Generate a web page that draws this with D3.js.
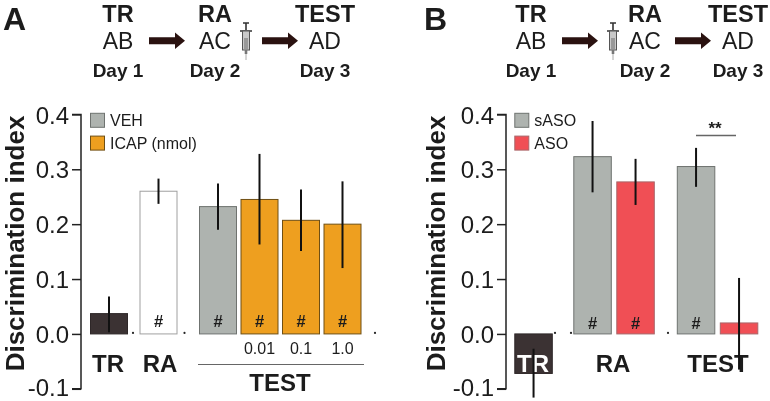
<!DOCTYPE html>
<html><head><meta charset="utf-8">
<script src="https://cdn.jsdelivr.net/npm/d3@7/dist/d3.min.js"></script>
<style>html,body{margin:0;padding:0;background:#fff}svg{display:block;filter:blur(0.35px)}text{font-family:"Liberation Sans",Arial,sans-serif;fill:#1c1c1c}</style>
</head><body><svg id="c" width="770" height="401"></svg>
<script>
const yTicks = [-0.1, 0, 0.1, 0.2, 0.3, 0.4];
const catsA = ["TR", "RA", "VEH", "0.01", "0.1", "1.0"];
const groupsA = ["TR", "RA", "TEST", "TEST", "TEST", "TEST"];
const valuesA = [0.037, 0.26, 0.232, 0.245, 0.207, 0.2];
const lowA = [0.003, 0.237, 0.19, 0.163, 0.151, 0.12];
const highA = [0.068, 0.283, 0.274, 0.328, 0.263, 0.278];
const fillsA = ["dark", "white", "grey", "orange", "orange", "orange"];
const hashA = [false, true, true, true, true, true];
const doseLabels = ["0.01", "0.1", "1.0"];

const catsB = ["TR", "RA sASO", "RA ASO", "TEST sASO", "TEST ASO"];
const groupsB = ["TR", "RA", "RA", "TEST", "TEST"];
const valuesB = [-0.072, 0.323, 0.277, 0.305, 0.02];
const lowB = [-0.116, 0.258, 0.235, 0.268, -0.065];
const highB = [-0.027, 0.388, 0.319, 0.339, 0.102];
const fillsB = ["dark", "grey", "red", "grey", "red"];
const hashB = [false, true, true, true, false];

const palette = {dark:["#3b3233","#2e2728"], white:["#ffffff","#a0a0a0"], grey:["#aeb3af","#6f7370"], orange:["#ee9f1f","#6f4f14"], red:["#f04f55","#a8666a"]};
const svg = d3.select("#c");
const y = d3.scaleLinear().domain([-0.1, 0.4]).range([388.8, 114.4]);

function panel(o){
  const g = svg.append("g");
  const x = d3.scaleBand().domain(o.cats).range(o.xr).paddingInner(o.pad).paddingOuter(0);
  const off = d3.scaleOrdinal().domain(["TR","RA","TEST"]).range(o.off);
  const X = i => x(o.cats[i]) + off(o.groups[i]);
  const w = x.bandwidth();
  const idx = d3.range(o.cats.length);
  // bars
  g.selectAll("rect.bar").data(idx).join("rect").attr("class","bar")
    .attr("x", i => X(i)+.5).attr("width", w-1)
    .attr("y", i => Math.min(y(o.values[i]), y(0)))
    .attr("height", i => Math.abs(y(o.values[i]) - y(0)))
    .attr("fill", i => palette[o.fills[i]][0])
    .attr("stroke", i => palette[o.fills[i]][1]).attr("stroke-width", 1);
  // hash
  g.selectAll("text.h").data(idx.filter(i => o.hash[i])).join("text").attr("class","h")
    .attr("x", i => X(i)+w/2).attr("y", o.hashY).attr("text-anchor","middle")
    .attr("font-size",16.5).attr("font-weight","bold").text("#");
  // group labels behind the error bars
  o.labels(g, X, w);
  // error bars
  g.selectAll("line.e").data(idx).join("line").attr("class","e")
    .attr("x1", i => X(i)+w/2).attr("x2", i => X(i)+w/2)
    .attr("y1", i => y(o.low[i])).attr("y2", i => y(o.high[i]))
    .attr("stroke","#111").attr("stroke-width",2);
  // axis
  const ax = g.append("g").attr("transform",`translate(${o.axisX},0)`)
    .call(d3.axisLeft(y).tickValues(yTicks).tickFormat(d => d.toFixed(1)).tickSize(9).tickPadding(3));
  ax.selectAll("path,line").attr("stroke","#222").attr("stroke-width",1.5);
  ax.select("path").attr("d",`M-9,${y(0.4)}H0V${y(-0.1)}H-9`).attr("fill","none");
  ax.selectAll("text").attr("font-size",24).attr("font-family",'"Liberation Sans",Arial,sans-serif').attr("fill","#222")
    .attr("dy", d => d < 0 ? "0.27em" : "0.36em");
  // y title
  g.append("text").attr("transform",`translate(${o.titleX},243.5) rotate(-90)`).attr("text-anchor","middle")
    .attr("font-size",26).attr("font-weight","bold").text("Discrimination index");
  // stray dots on the baseline
  g.selectAll("circle.d").data(o.dots).join("circle").attr("class","d")
    .attr("cx",d=>d).attr("cy",y(0)-1).attr("r",1.1).attr("fill","#222");
  // legend
  o.legend.forEach((l,i)=>{
    const ly = 112.8 + i*22.8;
    g.append("rect").attr("x",o.legX+.5).attr("y",ly+.5).attr("width",14).attr("height",14)
      .attr("fill",palette[l[1]][0]).attr("stroke",palette[l[1]][1]);
    g.append("text").attr("x",o.legX+20).attr("y",ly+13).attr("font-size",16).attr("fill","#3a3a3a").text(l[0]);
  });
}
const bold = (g,t,xx,yy,s) => g.append("text").attr("x",xx).attr("y",yy).attr("text-anchor","middle").attr("font-size",s).attr("font-weight","bold").text(t);

panel({cats:catsA,groups:groupsA,values:valuesA,low:lowA,high:highA,fills:fillsA,hash:hashA,
  xr:[90,90+41.5*6-3.5],pad:3.5/41.5,off:[0,8,26],hashY:327,axisX:81,titleX:23.8,
  dots:[133,184.5,375],legX:90,legend:[["VEH","grey"],["ICAP (nmol)","orange"]],
  labels:(g,X,w)=>{
    bold(g,"TR",108,372,24); bold(g,"RA",160,372,24); bold(g,"TEST",280,391,24);
    g.selectAll("text.dose").data(doseLabels).join("text").attr("class","dose")
      .attr("x",(d,i)=>X(i+3)+w/2).attr("y",354).attr("text-anchor","middle").attr("font-size",16).attr("fill","#333").text(d=>d);
    g.append("line").attr("x1",198).attr("x2",364).attr("y1",364.5).attr("y2",364.5).attr("stroke","#666").attr("stroke-width",1.2);
  }});
panel({cats:catsB,groups:groupsB,values:valuesB,low:lowB,high:highB,fills:fillsB,hash:hashB,
  xr:[514.3,514.3+43*5-4.5],pad:4.5/43,off:[0,16,33.5],hashY:329,axisX:506,titleX:444.5,
  dots:[555,571,668],legX:514.3,legend:[["sASO","grey"],["ASO","red"]],
  labels:(g,X,w)=>{
    bold(g,"TR",533,372,24).style("fill","#fff"); bold(g,"RA",613,372,24); bold(g,"TEST",718,372,24);
    g.append("line").attr("x1",696).attr("x2",736).attr("y1",135.5).attr("y2",135.5).attr("stroke","#666").attr("stroke-width",1.4);
    bold(g,"**",715,134,17);
  }});

// protocol header
function arrow(x0){
  svg.append("path").attr("d",`M${x0},37.2H${x0+26}V32.5L${x0+36},40.7L${x0+26},48.9V44.2H${x0}Z`).attr("fill","#2a1210");
}
function syringe(cx){
  const g = svg.append("g").attr("transform",`translate(${cx},0)`);
  g.append("path").attr("d","M-3,23H3M0,23V30").attr("stroke","#333").attr("stroke-width",1.6).attr("fill","none");
  g.append("path").attr("d","M-6,31H6").attr("stroke","#333").attr("stroke-width",1.5);
  g.append("rect").attr("x",-3.5).attr("y",31).attr("width",7).attr("height",19).attr("fill","#c9c9c9").attr("stroke","#555").attr("stroke-width",1);
  g.append("rect").attr("x",-2).attr("y",38).attr("width",4).attr("height",11).attr("fill","#999");
  g.append("rect").attr("x",-1.3).attr("y",50).attr("width",2.6).attr("height",4).attr("fill","#777");
  g.append("line").attr("y1",54).attr("y2",60).attr("stroke","#aaa").attr("stroke-width",1);
}
function header(o){
  const T = (t,xx,yy,s,b) => svg.append("text").attr("x",xx).attr("y",yy).attr("text-anchor","middle").attr("font-size",s).attr("font-weight",b?"bold":"normal").text(t);
  ["TR","RA","TEST"].forEach((t,i)=>T(t,o.cx[i],21.5,23.5,true));
  ["AB","AC","AD"].forEach((t,i)=>T(t,o.cx[i],49,23,false).attr("fill","#333"));
  ["Day 1","Day 2","Day 3"].forEach((t,i)=>T(t,o.cx[i],77,19,true));
  o.arrows.forEach(arrow); syringe(o.syr);
}
header({cx:[118,215,325],arrows:[149,262],syr:246});
header({cx:[531,645,738],arrows:[562,675],syr:613});
svg.append("text").attr("x",3).attr("y",30).attr("font-size",32).attr("font-weight","bold").text("A");
svg.append("text").attr("x",424).attr("y",30).attr("font-size",32).attr("font-weight","bold").text("B");
</script></body></html>
